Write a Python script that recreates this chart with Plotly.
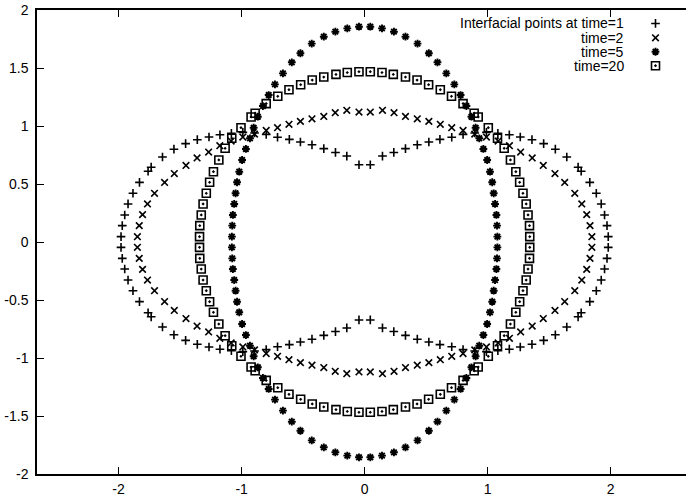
import plotly.graph_objects as go

# ---------------- data ----------------
t1_x = [0.046,0.145,0.237,0.332,0.428,0.522,0.612,0.708,0.800,0.895,0.990,1.083,1.176,1.265,1.360,1.455,1.550,1.643,1.735,1.760,1.830,1.883,1.923,1.950,1.970,1.980,
        1.980,1.970,1.950,1.923,1.883,1.830,1.760,1.735,1.643,1.550,1.455,1.360,1.265,1.176,1.083,0.990,0.895,0.800,0.708,0.612,0.522,0.428,0.332,0.237,0.145,0.046,
        -0.046,-0.145,-0.237,-0.332,-0.428,-0.522,-0.612,-0.708,-0.800,-0.895,-0.990,-1.083,-1.176,-1.265,-1.360,-1.455,-1.550,-1.643,-1.735,-1.760,-1.830,-1.883,-1.923,-1.950,-1.970,-1.980,
        -1.980,-1.970,-1.950,-1.923,-1.883,-1.830,-1.760,-1.735,-1.643,-1.550,-1.455,-1.360,-1.265,-1.176,-1.083,-0.990,-0.895,-0.800,-0.708,-0.612,-0.522,-0.428,-0.332,-0.237,-0.145,-0.046]
t1_y = [0.666,0.741,0.772,0.805,0.838,0.862,0.885,0.903,0.928,0.940,0.945,0.937,0.924,0.905,0.882,0.848,0.800,0.733,0.645,0.610,0.514,0.420,0.328,0.233,0.141,0.046,
        -0.046,-0.141,-0.233,-0.328,-0.420,-0.514,-0.610,-0.645,-0.733,-0.800,-0.848,-0.882,-0.905,-0.924,-0.937,-0.945,-0.940,-0.928,-0.903,-0.885,-0.862,-0.838,-0.805,-0.772,-0.741,-0.672,
        -0.672,-0.741,-0.772,-0.805,-0.838,-0.862,-0.885,-0.903,-0.928,-0.940,-0.945,-0.937,-0.924,-0.905,-0.882,-0.848,-0.800,-0.733,-0.645,-0.610,-0.514,-0.420,-0.328,-0.233,-0.141,-0.046,
        0.046,0.141,0.233,0.328,0.420,0.514,0.610,0.645,0.733,0.800,0.848,0.882,0.905,0.924,0.937,0.945,0.940,0.928,0.903,0.885,0.862,0.838,0.805,0.772,0.741,0.666]

t2_x = [0.046,0.145,0.239,0.332,0.428,0.522,0.615,0.708,0.800,0.895,0.990,1.085,1.177,1.268,1.362,1.452,1.547,1.626,1.708,1.765,1.805,1.832,1.847,
        1.847,1.832,1.805,1.765,1.708,1.626,1.547,1.452,1.362,1.268,1.177,1.085,0.990,0.895,0.800,0.708,0.615,0.522,0.428,0.332,0.239,0.145,0.046,
        -0.046,-0.145,-0.239,-0.332,-0.428,-0.522,-0.615,-0.708,-0.800,-0.895,-0.990,-1.085,-1.177,-1.268,-1.362,-1.452,-1.547,-1.626,-1.708,-1.765,-1.805,-1.832,-1.847,
        -1.847,-1.832,-1.805,-1.765,-1.708,-1.626,-1.547,-1.452,-1.362,-1.268,-1.177,-1.085,-0.990,-0.895,-0.800,-0.708,-0.615,-0.522,-0.428,-0.332,-0.239,-0.145,-0.046]
t2_y = [1.120,1.135,1.115,1.082,1.062,1.040,1.015,0.985,0.962,0.930,0.905,0.870,0.830,0.775,0.725,0.660,0.590,0.513,0.420,0.328,0.236,0.141,0.046,
        -0.046,-0.141,-0.236,-0.328,-0.420,-0.513,-0.590,-0.660,-0.725,-0.775,-0.830,-0.870,-0.905,-0.930,-0.962,-0.985,-1.015,-1.040,-1.062,-1.082,-1.115,-1.135,-1.120,
        -1.120,-1.135,-1.115,-1.082,-1.062,-1.040,-1.015,-0.985,-0.962,-0.930,-0.905,-0.870,-0.830,-0.775,-0.725,-0.660,-0.590,-0.513,-0.420,-0.328,-0.236,-0.141,-0.046,
        0.046,0.141,0.236,0.328,0.420,0.513,0.590,0.660,0.725,0.775,0.830,0.870,0.905,0.930,0.962,0.985,1.015,1.040,1.062,1.082,1.115,1.135,1.120]

t5_x = [0.046,0.141,0.238,0.332,0.430,0.522,0.592,0.664,0.729,0.780,0.827,0.868,0.902,0.932,0.965,0.996,1.019,1.037,1.049,1.060,1.071,1.076,1.079,
        1.079,1.076,1.071,1.060,1.049,1.037,1.019,0.996,0.965,0.932,0.902,0.868,0.827,0.780,0.729,0.664,0.592,0.522,0.430,0.332,0.238,0.141,0.046,
        -0.046,-0.141,-0.238,-0.332,-0.430,-0.522,-0.592,-0.664,-0.729,-0.780,-0.827,-0.868,-0.902,-0.932,-0.965,-0.996,-1.019,-1.037,-1.049,-1.060,-1.071,-1.076,-1.079,
        -1.079,-1.076,-1.071,-1.060,-1.049,-1.037,-1.019,-0.996,-0.965,-0.932,-0.902,-0.868,-0.827,-0.780,-0.729,-0.664,-0.592,-0.522,-0.430,-0.332,-0.238,-0.141,-0.046]
t5_y = [1.856,1.842,1.813,1.770,1.710,1.627,1.549,1.454,1.359,1.267,1.172,1.080,0.985,0.894,0.802,0.707,0.606,0.515,0.420,0.328,0.233,0.141,0.046,
        -0.046,-0.141,-0.233,-0.328,-0.420,-0.515,-0.606,-0.707,-0.802,-0.894,-0.985,-1.080,-1.172,-1.267,-1.359,-1.454,-1.549,-1.627,-1.710,-1.770,-1.813,-1.842,-1.856,
        -1.856,-1.842,-1.813,-1.770,-1.710,-1.627,-1.549,-1.454,-1.359,-1.267,-1.172,-1.080,-0.985,-0.894,-0.802,-0.707,-0.606,-0.515,-0.420,-0.328,-0.233,-0.141,-0.046,
        0.046,0.141,0.233,0.328,0.420,0.515,0.606,0.707,0.802,0.894,0.985,1.080,1.172,1.267,1.359,1.454,1.549,1.627,1.710,1.770,1.813,1.842,1.856]

t20_x = [0.046,0.141,0.233,0.332,0.426,0.520,0.615,0.706,0.800,0.890,0.923,1.005,1.080,1.134,1.185,1.229,1.260,1.287,1.313,1.328,1.340,1.342,
         1.342,1.340,1.328,1.313,1.287,1.260,1.229,1.185,1.134,1.080,1.005,0.923,0.890,0.800,0.706,0.615,0.520,0.426,0.332,0.233,0.141,0.046,
         -0.046,-0.141,-0.233,-0.332,-0.426,-0.520,-0.615,-0.706,-0.800,-0.890,-0.923,-1.005,-1.080,-1.134,-1.185,-1.229,-1.260,-1.287,-1.313,-1.328,-1.340,-1.342,
         -1.342,-1.340,-1.328,-1.313,-1.287,-1.260,-1.229,-1.185,-1.134,-1.080,-1.005,-0.923,-0.890,-0.800,-0.706,-0.615,-0.520,-0.426,-0.332,-0.233,-0.141,-0.046]
t20_y = [1.468,1.461,1.445,1.422,1.396,1.356,1.313,1.256,1.193,1.110,1.078,0.985,0.894,0.808,0.707,0.606,0.515,0.420,0.328,0.233,0.141,0.046,
         -0.046,-0.141,-0.233,-0.328,-0.420,-0.515,-0.606,-0.707,-0.808,-0.894,-0.985,-1.078,-1.110,-1.193,-1.256,-1.313,-1.356,-1.396,-1.422,-1.445,-1.461,-1.468,
         -1.468,-1.461,-1.445,-1.422,-1.396,-1.356,-1.313,-1.256,-1.193,-1.110,-1.078,-0.985,-0.894,-0.808,-0.707,-0.606,-0.515,-0.420,-0.328,-0.233,-0.141,-0.046,
         0.046,0.141,0.233,0.328,0.420,0.515,0.606,0.707,0.808,0.894,0.985,1.078,1.110,1.193,1.256,1.313,1.356,1.396,1.422,1.445,1.461,1.468]

series_names = ["Interfacial points at time=1", "time=2", "time=5", "time=20"]

x_tickvals = [-2, -1, 0, 1, 2]
x_ticktext = ["-2", "-1", "0", "1", "2"]
y_tickvals = [-2, -1.5, -1, -0.5, 0, 0.5, 1, 1.5, 2]
y_ticktext = ["-2", "-1.5", "-1", "-0.5", "0", "0.5", "1", "1.5", "2"]

# ---------------- styling ----------------
FONT = "Liberation Sans, Arial, Helvetica, sans-serif"
styles = [
    dict(symbol="cross-thin-open", size=6.2, line=dict(width=1.6, color="black")),
    dict(symbol="x-thin-open", size=6.6, line=dict(width=1.6, color="black")),
    dict(symbol="asterisk-open", size=6.5, line=dict(width=1.9, color="black")),
    dict(symbol="square-open-dot", size=8, line=dict(width=1.6, color="black")),
]
data_xy = [(t1_x, t1_y), (t2_x, t2_y), (t5_x, t5_y), (t20_x, t20_y)]

fig = go.Figure()
for (xs, ys), st, nm in zip(data_xy, styles, series_names):
    fig.add_trace(go.Scatter(x=xs, y=ys, mode="markers", name=nm,
                             marker=dict(color="black", **st), showlegend=False))

# gnuplot-style key: right-aligned text, sample symbol to its right
key_text_x = 0.907
key_sym_x = 0.953
key_rows_y = [0.971, 0.940, 0.910, 0.880]
for st, nm, ky in zip(styles, series_names, key_rows_y):
    fig.add_trace(go.Scatter(x=[key_sym_x], y=[ky], mode="markers", xaxis="x2", yaxis="y2",
                             marker=dict(color="black", **st), showlegend=False, hoverinfo="skip"))
    fig.add_annotation(x=key_text_x, y=ky, xref="paper", yref="paper", text=nm,
                       showarrow=False, xanchor="right", yanchor="middle",
                       font=dict(family=FONT, size=14, color="black"))

fig.update_layout(
    width=686, height=500,
    margin=dict(l=37, r=0, t=10, b=26, autoexpand=False),
    paper_bgcolor="white", plot_bgcolor="white",
    font=dict(family=FONT, size=14, color="black"),
    showlegend=False,
    xaxis=dict(range=[-2.663, 2.612], tickvals=x_tickvals, ticktext=x_ticktext, automargin=False,
               showgrid=False, zeroline=False, showline=True, linecolor="black", linewidth=1.5,
               mirror="ticks", ticks="inside", ticklen=7, tickwidth=1.2, tickcolor="black",
               ticklabelstandoff=1),
    yaxis=dict(range=[-2, 2], tickvals=y_tickvals, ticktext=y_ticktext, automargin=False,
               showgrid=False, zeroline=False, showline=True, linecolor="black", linewidth=1.5,
               mirror=False, ticks="inside", ticklen=7, tickwidth=1.2, tickcolor="black",
               ticklabelstandoff=4),
    xaxis2=dict(range=[0, 1], overlaying="x", visible=False, fixedrange=True),
    yaxis2=dict(range=[0, 1], overlaying="y", visible=False, fixedrange=True),
)

fig.write_html("out.html", config={"displayModeBar": False},
               post_script="document.body.style.margin='0';document.body.style.overflow='hidden';")
